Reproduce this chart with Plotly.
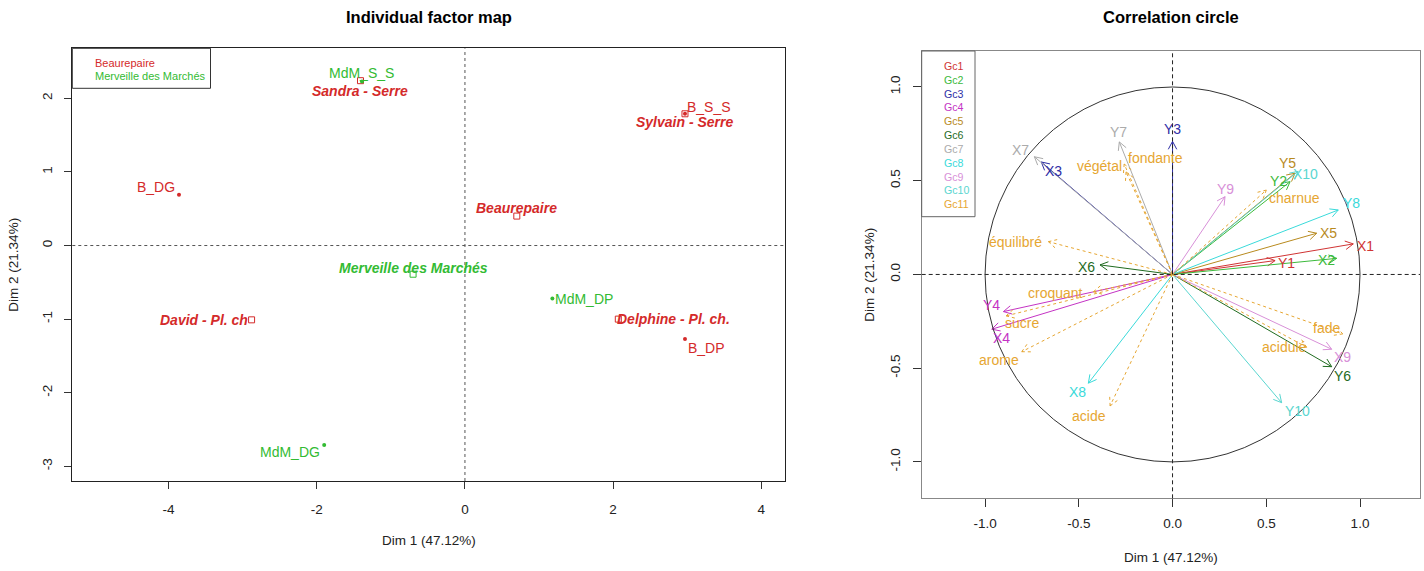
import math
import plotly.graph_objects as go

W, H = 1424, 571
FONT = "Liberation Sans, Arial, sans-serif"

# ---------------- Individual factor map data ----------------
ind_names = ["B_DG", "MdM_S_S", "B_S_S", "MdM_DG", "MdM_DP", "B_DP"]
ind_dim1 = [-3.86, -1.39, 2.97, -1.90, 1.18, 2.97]
ind_dim2 = [0.69, 2.23, 1.79, -2.71, -0.72, -1.27]
ind_group = [0, 1, 0, 1, 1, 0]
ind_lab_dx = [-23, 0, 24, -34, 32, 22]
ind_lab_dy = [-8, -8, -7, 7, 0, 9]

cat_names = ["Sandra - Serre", "Sylvain - Serre", "Beaurepaire", "Merveille des Marchés",
             "David - Pl. ch", "Delphine - Pl. ch."]
cat_dim1 = [-1.41, 2.97, 0.70, -0.70, -2.88, 2.07]
cat_dim2 = [2.24, 1.79, 0.40, -0.39, -1.01, -1.00]
cat_group = [0, 0, 0, 1, 0, 0]
cat_lab_dx = [0, 0, 0, 0, -48, 55]
cat_lab_dy = [10, 8, -8, -6, 0, 0]

hab_names = ["Beaurepaire", "Merveille des Marchés"]
hab_colors = ["#D42A2A", "#33BB33"]

x1_ticks = [-4, -2, 0, 2, 4]
x1_ticktext = ["-4", "-2", "0", "2", "4"]
y1_ticks = [-3, -2, -1, 0, 1, 2]
y1_ticktext = ["-3", "-2", "-1", "0", "1", "2"]

# ---------------- Correlation circle data ----------------
var_names = ["X1", "Y1", "X2", "Y2", "X3", "Y3", "X4", "Y4", "X5", "Y5",
             "X6", "Y6", "X7", "Y7", "X8", "Y8", "X9", "Y9", "X10", "Y10",
             "végétal", "fondante", "charnue", "équilibré", "croquant",
             "sucre", "arome", "acide", "fade", "acidulé"]
var_dim1 = [0.964, 0.547, 0.876, 0.627, -0.700, 0.000, -0.964, -0.902, 0.769, 0.653,
            -0.387, 0.849, -0.737, -0.284, -0.449, 0.884, 0.849, 0.280, 0.670, 0.582,
            -0.248, -0.258, 0.500, -0.662, -0.422,
            -0.888, -0.804, -0.333, 0.908, 0.715]
var_dim2 = [0.163, 0.074, 0.086, 0.495, 0.600, 0.710, -0.292, -0.198, 0.220, 0.540,
            0.051, -0.492, 0.628, 0.707, -0.580, 0.344, -0.399, 0.415, 0.550, -0.684,
            0.547, 0.589, 0.450, 0.175, -0.092,
            -0.221, -0.412, -0.701, -0.317, -0.388]
var_group = [0, 0, 1, 1, 2, 2, 3, 3, 4, 4,
             5, 5, 6, 6, 7, 7, 8, 8, 9, 9,
             10, 10, 10, 10, 10, 10, 10, 10, 10, 10]
var_lab_dx = [12, 11, -10, -12, 12, 0, 10, -12, 12, -7,
              -13, 11, -14, -1, -11, 13, 11, 0, 7, 16,
              -27, 31, 28, -33, -38, 16, -23, -21, -16, -22]
var_lab_dy = [2, 2, 2, -1, 9, -12, 9, -7, 0, -10,
              2, 9, -7, -10, 9, -7, 8, -8, 3, 8,
              -6, -6, 8, 0, 1, 7, 8, 10, -6, 0]

group_names = ["Gc1", "Gc2", "Gc3", "Gc4", "Gc5", "Gc6", "Gc7", "Gc8", "Gc9", "Gc10", "Gc11"]
group_colors = ["#D03434", "#3CBA3C", "#2E2EA6", "#C433C4", "#B88A1E", "#1F6B1F",
                "#ABABAB", "#3ADADA", "#D890D8", "#5AD6D0", "#E6A632"]
group_dashed = [False] * 10 + [True]

x2_ticks = [-1.0, -0.5, 0.0, 0.5, 1.0]
x2_ticktext = ["-1.0", "-0.5", "0.0", "0.5", "1.0"]
y2_ticks = [-1.0, -0.5, 0.0, 0.5, 1.0]
y2_ticktext = ["-1.0", "-0.5", "0.0", "0.5", "1.0"]

# ---------------- layout geometry (pixels) ----------------
L1 = (72.3, 785.0, 48.3, 481.0)     # left, right, top, bottom
L2 = (921.7, 1420.0, 51.0, 498.3)


def px(x):
    return x / W


def py(y):
    return 1 - y / H


fig = go.Figure()

# ---- left plot: individual points ----
for g in range(2):
    idx = [i for i in range(len(ind_names)) if ind_group[i] == g]
    fig.add_trace(go.Scatter(
        x=[ind_dim1[i] for i in idx], y=[ind_dim2[i] for i in idx],
        mode="markers", marker=dict(size=4, color=hab_colors[g]),
        xaxis="x", yaxis="y", hoverinfo="skip", showlegend=False))
    idc = [i for i in range(len(cat_names)) if cat_group[i] == g]
    fig.add_trace(go.Scatter(
        x=[cat_dim1[i] for i in idc], y=[cat_dim2[i] for i in idc],
        mode="markers", marker=dict(size=6, symbol="square-open", color=hab_colors[g],
                                    line=dict(width=1)),
        xaxis="x", yaxis="y", hoverinfo="skip", showlegend=False))

annotations = []
for i, n in enumerate(ind_names):
    annotations.append(dict(x=ind_dim1[i], y=ind_dim2[i], xref="x", yref="y", text=n,
                            showarrow=False, xshift=ind_lab_dx[i], yshift=-ind_lab_dy[i],
                            xanchor="center", yanchor="middle",
                            font=dict(family=FONT, size=14, color=hab_colors[ind_group[i]])))
for i, n in enumerate(cat_names):
    annotations.append(dict(x=cat_dim1[i], y=cat_dim2[i], xref="x", yref="y",
                            text="<b><i>" + n + "</i></b>",
                            showarrow=False, xshift=cat_lab_dx[i], yshift=-cat_lab_dy[i],
                            xanchor="center", yanchor="middle",
                            font=dict(family=FONT, size=14, color=hab_colors[cat_group[i]])))

# ---- right plot: arrows ----
HEAD = 0.048
ANG = math.radians(28)
for g in range(len(group_names)):
    xs, ys = [], []
    for i in range(len(var_names)):
        if var_group[i] != g:
            continue
        tx, ty = var_dim1[i], var_dim2[i]
        th = math.atan2(ty, tx)
        xs += [0, tx, None]
        ys += [0, ty, None]
        for s in (1, -1):
            a = th + math.pi + s * ANG
            xs += [tx, tx + HEAD * math.cos(a), None]
            ys += [ty, ty + HEAD * math.sin(a), None]
    fig.add_trace(go.Scatter(
        x=xs, y=ys, mode="lines",
        line=dict(color=group_colors[g], width=1, dash="3px,3px" if group_dashed[g] else "solid"),
        xaxis="x2", yaxis="y2", hoverinfo="skip", showlegend=False))

for i, n in enumerate(var_names):
    annotations.append(dict(x=var_dim1[i], y=var_dim2[i], xref="x2", yref="y2", text=n,
                            showarrow=False, xshift=var_lab_dx[i], yshift=-var_lab_dy[i],
                            xanchor="center", yanchor="middle",
                            font=dict(family=FONT, size=14, color=group_colors[var_group[i]])))

# ---- titles and axis titles ----
def paper_text(xp, yp, text, size, color="#222", angle=0, xanchor="center"):
    return dict(x=px(xp), y=py(yp), xref="paper", yref="paper", text=text, showarrow=False,
                textangle=angle, xanchor=xanchor, yanchor="middle",
                font=dict(family=FONT, size=size, color=color))


annotations += [
    paper_text((L1[0] + L1[1]) / 2, 17, "<b>Individual factor map</b>", 16.5, "black"),
    paper_text((L2[0] + L2[1]) / 2, 17, "<b>Correlation circle</b>", 16.5, "black"),
    paper_text((L1[0] + L1[1]) / 2, 540, "Dim 1 (47.12%)", 13.5),
    paper_text(14, (L1[2] + L1[3]) / 2, "Dim 2 (21.34%)", 13.5, angle=-90),
    paper_text((L2[0] + L2[1]) / 2, 557, "Dim 1 (47.12%)", 13.5),
    paper_text(870, (L2[2] + L2[3]) / 2, "Dim 2 (21.34%)", 13.5, angle=-90),
]

# ---- legends (text-only, R style) ----
for k, n in enumerate(hab_names):
    annotations.append(paper_text(92.5, 63.5 + 12.7 * k, n, 11, hab_colors[k], xanchor="left"))

gc_text = "<br>".join(
    "<span style='color:%s'>%s</span>" % (group_colors[k], n) for k, n in enumerate(group_names))
annotations.append(dict(x=px(941.5), y=py((66 + 66 + 13.83 * 10) / 2), xref="paper", yref="paper",
                        text=gc_text, showarrow=False, xanchor="left", yanchor="middle",
                        align="left", font=dict(family=FONT, size=10.64, color="#333")))

shapes = [
    # left legend box
    dict(type="rect", xref="paper", yref="paper", x0=px(L1[0]), x1=px(210.5),
         y0=py(88.3), y1=py(L1[2]), line=dict(color="#333", width=1)),
    # right legend box
    dict(type="rect", xref="paper", yref="paper", x0=px(L2[0]), x1=px(975),
         y0=py(216.7), y1=py(L2[2]), line=dict(color="#666", width=1)),
    # left zero lines
    dict(type="line", xref="x", yref="y domain", x0=0, x1=0, y0=0, y1=1,
         line=dict(color="#555", width=1, dash="3px,3px")),
    dict(type="line", xref="x domain", yref="y", x0=0, x1=1, y0=0, y1=0,
         line=dict(color="#555", width=1, dash="3px,3px")),
    # right zero lines
    dict(type="line", xref="x2", yref="y2 domain", x0=0, x1=0, y0=0, y1=1,
         line=dict(color="#222", width=1, dash="4px,3px")),
    dict(type="line", xref="x2 domain", yref="y2", x0=0, x1=1, y0=0, y1=0,
         line=dict(color="#222", width=1, dash="4px,3px")),
    # unit circle
    dict(type="circle", xref="x2", yref="y2", x0=-1, x1=1, y0=-1, y1=1,
         line=dict(color="#333", width=1)),
]

axis_common = dict(showgrid=False, zeroline=False, showline=True, mirror=True,
                   ticks="outside", tickfont=dict(family=FONT, size=13.5, color="#222"),
                   tickcolor="#333", tickmode="array", fixedrange=True)

fig.update_layout(
    width=W, height=H, margin=dict(l=0, r=0, t=0, b=0),
    paper_bgcolor="white", plot_bgcolor="white", showlegend=False,
    xaxis=dict(domain=[px(L1[0]), px(L1[1])], range=[-5.30, 4.32], anchor="y",
               tickvals=x1_ticks, ticktext=x1_ticktext, ticklen=7, ticklabelstandoff=9,
               linecolor="#222", **axis_common),
    yaxis=dict(domain=[py(L1[3]), py(L1[2])], range=[-3.20, 2.68], anchor="x",
               tickvals=y1_ticks, ticktext=y1_ticktext, ticklen=7, tickangle=-90,
               ticklabelstandoff=7, linecolor="#222", **axis_common),
    xaxis2=dict(domain=[px(L2[0]), px(L2[1])], range=[-1.338, 1.32], anchor="y2",
                tickvals=x2_ticks, ticktext=x2_ticktext, ticklen=8, ticklabelstandoff=4,
                linecolor="#888", **axis_common),
    yaxis2=dict(domain=[py(L2[3]), py(L2[2])], range=[-1.194, 1.192], anchor="x2",
                tickvals=y2_ticks, ticktext=y2_ticktext, ticklen=8, tickangle=-90,
                ticklabelstandoff=7, linecolor="#888", **axis_common),
    annotations=annotations, shapes=shapes,
)

fig.write_html("out.html")
